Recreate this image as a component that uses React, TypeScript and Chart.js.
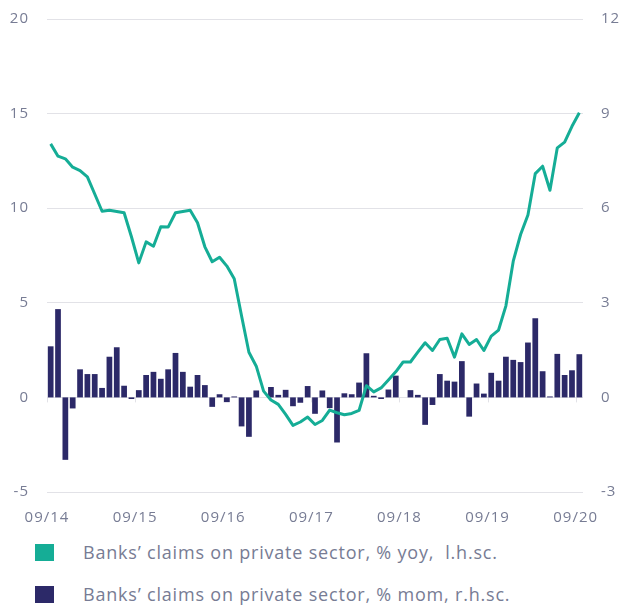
import React, { useEffect, useRef } from "react";
import { Chart, registerables } from "chart.js";

Chart.register(...registerables);

// Tick labels on the time axis (one per year, every 12 months)
const xTickLabels = ["09/14", "09/15", "09/16", "09/17", "09/18", "09/19", "09/20"];

// Banks' claims on private sector, % yoy (left axis), monthly 09/14 .. 09/20
const yoyValues = [
  13.4, 12.75, 12.61, 12.17, 11.99, 11.66, 10.75, 9.84, 9.89, 9.83, 9.76, 8.49,
  7.11, 8.22, 7.99, 9.02, 9.0, 9.76, 9.83, 9.89, 9.23, 7.96, 7.17, 7.41,
  6.94, 6.27, 4.3, 2.39, 1.65, 0.33, -0.14, -0.37, -0.9, -1.48, -1.3, -1.04,
  -1.43, -1.22, -0.67, -0.81, -0.92, -0.85, -0.69, 0.62, 0.29, 0.5, 0.92, 1.35,
  1.87, 1.87, 2.39, 2.89, 2.48, 3.06, 3.13, 2.13, 3.36, 2.8, 3.06, 2.48,
  3.24, 3.56, 4.84, 7.2, 8.61, 9.64, 11.83, 12.22, 10.95, 13.19, 13.49, 14.33,
  15.04,
];

// Banks' claims on private sector, % mom (right axis), monthly 09/14 .. 09/20
const momValues = [
  1.62, 2.8, -1.98, -0.35, 0.89, 0.74, 0.74, 0.3, 1.29, 1.59, 0.37, -0.05,
  0.23, 0.71, 0.81, 0.59, 0.89, 1.41, 0.81, 0.34, 0.71, 0.39, -0.3, 0.1,
  -0.15, 0.03, -0.92, -1.25, 0.22, 0.0, 0.33, 0.08, 0.24, -0.28, -0.17, 0.36,
  -0.52, 0.22, -0.34, -1.43, 0.13, 0.1, 0.47, 1.4, 0.05, -0.05, 0.25, 0.69,
  0.0, 0.23, 0.08, -0.87, -0.24, 0.74, 0.53, 0.5, 1.15, -0.61, 0.44, 0.12,
  0.78, 0.53, 1.29, 1.19, 1.12, 1.74, 2.51, 0.83, 0.03, 1.38, 0.71, 0.86,
  1.37,
];

const seriesNames = [
  "Banks\u2019 claims on private sector, % yoy,  l.h.sc.",
  "Banks\u2019 claims on private sector, % mom, r.h.sc.",
];

const TEAL = "#15ad96";
const NAVY = "#2c2968";
const GRID = "#e2e2e7";
const TEXT = "#777c94";
const FONT = "'Open Sans', Lato, sans-serif";

export default function App() {
  const canvasRef = useRef<HTMLCanvasElement | null>(null);

  useEffect(() => {
    if (!canvasRef.current) return;
    const n = yoyValues.length;
    const lineData = yoyValues.map((v, i) => ({ x: i + 0.5, y: v }));
    const barData = momValues.map((v, i) => ({ x: i + 0.5, y: v }));
    const tickVals = xTickLabels.map((_, i) => i * 12);

    const spacing = {
      id: "letterSpacing",
      beforeLayout(chart: any) {
        try {
          chart.ctx.letterSpacing = "1px";
        } catch (e) {}
      },
      beforeDraw(chart: any) {
        try {
          chart.ctx.letterSpacing = "1px";
        } catch (e) {}
      },
    };

    const zeroTicks = {
      id: "zeroTicks",
      beforeDatasetsDraw(chart: any) {
        const ctx = chart.ctx;
        const xs = chart.scales.x;
        const ys = chart.scales.y;
        const y0 = ys.getPixelForValue(0);
        ctx.save();
        ctx.strokeStyle = GRID;
        ctx.lineWidth = 1;
        tickVals.forEach((v) => {
          const px = Math.round(xs.getPixelForValue(v)) + 0.5;
          ctx.beginPath();
          ctx.moveTo(px, y0);
          ctx.lineTo(px, y0 + 5);
          ctx.stroke();
        });
        ctx.restore();
      },
    };

    const noVPad = (scale: any, width: number) => {
      scale.width = width;
      scale.paddingTop = 0;
      scale.paddingBottom = 0;
    };

    const chart = new Chart(canvasRef.current, {
      type: "bar",
      data: {
        datasets: [
          {
            type: "line",
            label: seriesNames[0],
            data: lineData,
            yAxisID: "y",
            borderColor: TEAL,
            backgroundColor: TEAL,
            borderWidth: 3,
            pointRadius: 0,
            tension: 0,
            borderJoinStyle: "round",
            order: 0,
          } as any,
          {
            type: "bar",
            label: seriesNames[1],
            data: barData,
            yAxisID: "y1",
            backgroundColor: NAVY,
            borderWidth: 0,
            barPercentage: 0.78,
            categoryPercentage: 1,
            order: 1,
          } as any,
        ],
      },
      options: {
        animation: false,
        responsive: false,
        maintainAspectRatio: false,
        layout: { padding: { top: 19, left: 0, right: 0, bottom: 0 } },
        plugins: { legend: { display: false }, tooltip: { enabled: false } },
        scales: {
          x: {
            type: "linear",
            min: 0,
            max: n,
            offset: false,
            grid: { display: false, drawTicks: false, offset: false },
            border: { display: false },
            afterBuildTicks: (scale: any) => {
              scale.ticks = tickVals.map((v) => ({ value: v }));
            },
            afterFit: (scale: any) => {
              scale.height = 38;
            },
            ticks: {
              autoSkip: false,
              maxRotation: 0,
              padding: 17,
              color: TEXT,
              font: { family: FONT, size: 15 },
              callback: (v: any) => xTickLabels[Math.round(Number(v) / 12)] ?? "",
            },
          },
          y: {
            position: "left",
            min: -5,
            max: 20,
            grid: { color: GRID, lineWidth: 1, drawTicks: false },
            border: { display: false },
            afterFit: (scale: any) => noVPad(scale, 47),
            ticks: {
              stepSize: 5,
              padding: 18,
              color: TEXT,
              font: { family: FONT, size: 15 },
            },
          },
          y1: {
            position: "right",
            min: -3,
            max: 12,
            grid: { display: false, drawTicks: false },
            border: { display: false },
            afterFit: (scale: any) => noVPad(scale, 39),
            ticks: {
              stepSize: 3,
              padding: 18,
              color: TEXT,
              font: { family: FONT, size: 15 },
            },
          },
        },
      },
      plugins: [spacing, zeroTicks],
    });
    return () => chart.destroy();
  }, []);

  const legendColors = [TEAL, NAVY];

  return (
    <div
      style={{
        position: "fixed",
        left: 0,
        top: 0,
        width: 622,
        height: 606,
        background: "#fff",
        overflow: "hidden",
      }}
    >
      <canvas
        ref={canvasRef}
        width={622}
        height={530}
        style={{ position: "absolute", left: 0, top: 0, width: 622, height: 530 }}
      />
      {seriesNames.map((name, i) => (
        <div
          key={name}
          style={{
            position: "absolute",
            left: 35,
            top: 543 + i * 42,
            height: 18,
            display: "flex",
            alignItems: "center",
            whiteSpace: "pre",
          }}
        >
          <span
            style={{
              display: "inline-block",
              width: 19,
              height: 17,
              background: legendColors[i],
            }}
          />
          <span
            style={{
              marginLeft: 29,
              fontFamily: FONT,
              fontSize: 18,
              letterSpacing: "0.8px",
              color: TEXT,
              lineHeight: "18px",
            }}
          >
            {name}
          </span>
        </div>
      ))}
    </div>
  );
}
